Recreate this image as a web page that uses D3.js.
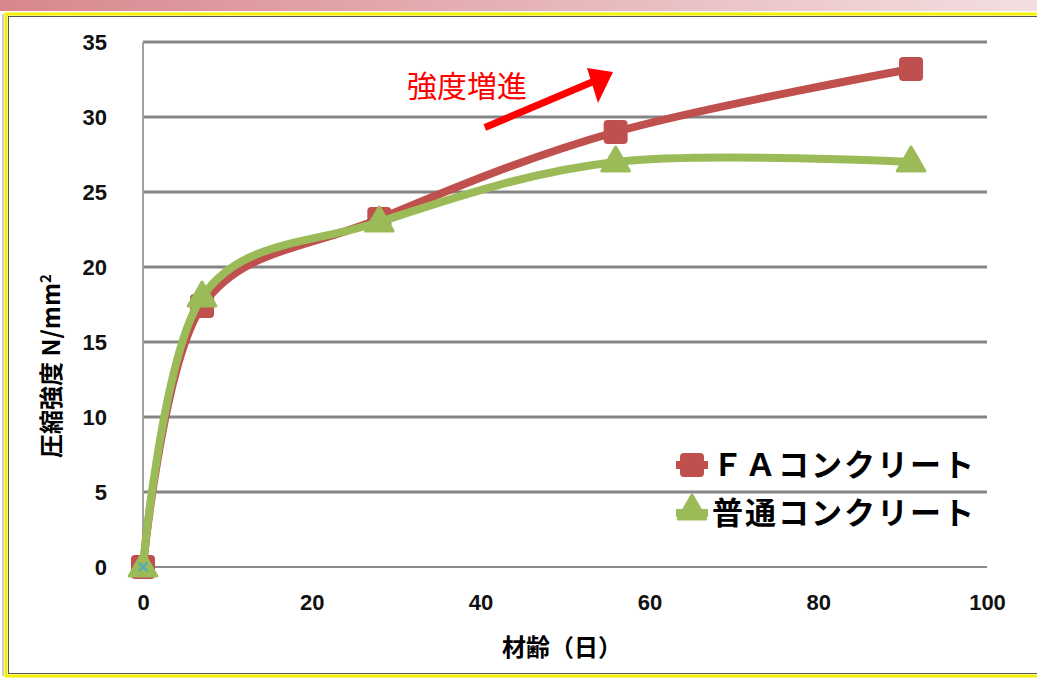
<!DOCTYPE html>
<html>
<head>
<meta charset="utf-8">
<script src="https://cdn.jsdelivr.net/npm/d3@7"></script>
<style>
  body { margin: 0; background: #fff; }
  svg { display: block; }
</style>
</head>
<body>
<div id="chart"></div>
<script>
// data
var days = [0, 7, 28, 56, 91];
var faValues = [0, 17.4, 23.2, 29.0, 33.2];
var normalValues = [0, 18.0, 23.0, 27.0, 27.0];
var seriesNames = ["ＦＡコンクリート", "普通コンクリート"];
var xTicks = [0, 20, 40, 60, 80, 100];
var yTicks = [0, 5, 10, 15, 20, 25, 30, 35];

var W = 1037, H = 684;
var margin = {top: 42, right: 50, bottom: 117, left: 143},
    width = 987 - margin.left,
    height = 567 - margin.top;

var svg = d3.select("#chart")
  .append("svg")
    .attr("width", W)
    .attr("height", H);

// pink band on top
var grad = svg.append("defs").append("linearGradient")
    .attr("id", "band");
grad.append("stop").attr("offset", "0%").attr("stop-color", "#d8878d");
grad.append("stop").attr("offset", "100%").attr("stop-color", "#f3dfe1");
svg.append("rect")
    .attr("x", 0).attr("y", 0)
    .attr("width", W).attr("height", 11)
    .attr("fill", "url(#band)");

// frame
svg.append("rect")
    .attr("x", 6).attr("y", 14)
    .attr("width", W + 10).attr("height", 662)
    .attr("fill", "none")
    .attr("stroke", "#f5f000")
    .attr("stroke-width", 3);
svg.append("rect")
    .attr("x", 8.5).attr("y", 16.5)
    .attr("width", W + 10).attr("height", 657)
    .attr("fill", "none")
    .attr("stroke", "#555")
    .attr("stroke-width", 1);
svg.append("line")
    .attr("x1", 3).attr("x2", 3).attr("y1", 14).attr("y2", 676)
    .attr("stroke", "#999").attr("stroke-width", 1);

var g = svg.append("g")
    .attr("transform", "translate(" + margin.left + "," + margin.top + ")");

var x = d3.scaleLinear()
    .domain([0, 100])
    .range([0, width]);

var y = d3.scaleLinear()
    .domain([0, 35])
    .range([height, 0]);

// grid lines
g.selectAll("line.grid")
  .data(yTicks)
  .enter()
  .append("line")
    .attr("class", "grid")
    .attr("x1", 0)
    .attr("x2", width)
    .attr("y1", function(d) { return y(d); })
    .attr("y2", function(d) { return y(d); })
    .attr("stroke", function(d) { return d == 0 ? "#8a8a8a" : "#858585"; })
    .attr("stroke-width", function(d) { return d == 0 ? 2 : 3; });

// y axis line
g.append("line")
    .attr("x1", 0).attr("x2", 0)
    .attr("y1", 0).attr("y2", height)
    .attr("stroke", "#a0a0a0")
    .attr("stroke-width", 2);

// tick labels
var yAxis = g.append("g")
    .call(d3.axisLeft(y).tickValues(yTicks).tickSize(0).tickPadding(36));
yAxis.select(".domain").remove();
var xAxis = g.append("g")
    .attr("transform", "translate(0," + height + ")")
    .call(d3.axisBottom(x).tickValues(xTicks).tickSize(0).tickPadding(27));
xAxis.select(".domain").remove();
svg.selectAll(".tick text")
    .style("font-family", "'Liberation Sans', Arial, sans-serif")
    .style("font-weight", "bold")
    .style("font-size", "22px")
    .style("fill", "#111");

// axis titles
svg.append("text")
    .attr("x", 562)
    .attr("y", 656)
    .attr("text-anchor", "middle")
    .style("font-family", "'Noto Sans CJK JP', sans-serif")
    .style("font-weight", "bold")
    .style("font-size", "24px")
    .text("材齢（日）");

var yt = svg.append("text")
    .attr("transform", "translate(60,366) rotate(-90)")
    .attr("text-anchor", "middle")
    .style("font-family", "'Noto Sans CJK JP', sans-serif")
    .style("font-weight", "bold")
    .style("font-size", "24px");
yt.append("tspan").text("圧縮強度 N/mm");
yt.append("tspan").attr("dy", -9).style("font-size", "15px").text("2");

// lines
var line = d3.line()
    .x(function(d) { return x(d[0]); })
    .y(function(d) { return y(d[1]); })
    .curve(d3.curveCatmullRom.alpha(0));

var fa = days.map(function(d, i) { return [d, faValues[i]]; });
var normal = days.map(function(d, i) { return [d, normalValues[i]]; });

var red = "#c0504d", green = "#9bbb59";

g.append("path")
    .datum(fa)
    .attr("d", line)
    .attr("fill", "none")
    .attr("stroke", red)
    .attr("stroke-width", 8);

g.selectAll("rect.fa")
  .data(fa)
  .enter()
  .append("rect")
    .attr("class", "fa")
    .attr("x", function(d) { return x(d[0]) - 12; })
    .attr("y", function(d) { return y(d[1]) - 12; })
    .attr("width", 24)
    .attr("height", 24)
    .attr("rx", 4)
    .attr("fill", red);

g.append("path")
    .datum(normal)
    .attr("d", line)
    .attr("fill", "none")
    .attr("stroke", green)
    .attr("stroke-width", 8);

var tri = d3.symbol().type(d3.symbolTriangle).size(330);
g.selectAll("path.nm")
  .data(normal)
  .enter()
  .append("path")
    .attr("class", "nm")
    .attr("d", tri)
    .attr("transform", function(d) { return "translate(" + x(d[0]) + "," + (y(d[1]) + 1) + ")"; })
    .attr("fill", green)
    .attr("stroke", green)
    .attr("stroke-width", 3)
    .attr("stroke-linejoin", "round");

// little blue x at the origin
g.append("path")
    .attr("d", d3.symbol().type(d3.symbolX).size(50))
    .attr("transform", "translate(" + x(0) + "," + y(0) + ")")
    .attr("stroke", "#4bacc6")
    .attr("stroke-width", 2)
    .attr("fill", "none");

// legend
var legend = svg.append("g");
var ly = [465, 513];
legend.append("line")
    .attr("x1", 676).attr("x2", 708)
    .attr("y1", ly[0]).attr("y2", ly[0])
    .attr("stroke", red).attr("stroke-width", 8);
legend.append("rect")
    .attr("x", 680).attr("y", ly[0] - 12)
    .attr("width", 24).attr("height", 24)
    .attr("rx", 4)
    .attr("fill", red);
legend.append("line")
    .attr("x1", 676).attr("x2", 708)
    .attr("y1", ly[1]).attr("y2", ly[1])
    .attr("stroke", green).attr("stroke-width", 8);
legend.append("path")
    .attr("d", tri)
    .attr("transform", "translate(692," + (ly[1] - 2) + ")")
    .attr("fill", green)
    .attr("stroke", green)
    .attr("stroke-width", 3)
    .attr("stroke-linejoin", "round");
legend.selectAll("text")
  .data(seriesNames)
  .enter()
  .append("text")
    .attr("x", 712)
    .attr("y", function(d, i) { return ly[i] + 11; })
    .style("font-family", "'Noto Sans CJK JP', sans-serif")
    .style("font-weight", "bold")
    .style("font-size", "31px")
    .style("letter-spacing", "2px")
    .text(function(d) { return d; });

// annotation
svg.append("text")
    .attr("x", 407)
    .attr("y", 97)
    .style("font-family", "'Noto Sans CJK JP', sans-serif")
    .style("font-size", "30px")
    .style("fill", "#ff0000")
    .text("強度増進");

svg.append("line")
    .attr("x1", x(40.5) + margin.left)
    .attr("y1", y(29.3) + margin.top)
    .attr("x2", x(53.5) + margin.left)
    .attr("y2", y(32.4) + margin.top)
    .attr("stroke", "#ff0000")
    .attr("stroke-width", 7);
svg.append("path")
    .attr("d", "M613,72 L587,68 L598,103 Z")
    .attr("fill", "#ff0000");
</script>
</body>
</html>
